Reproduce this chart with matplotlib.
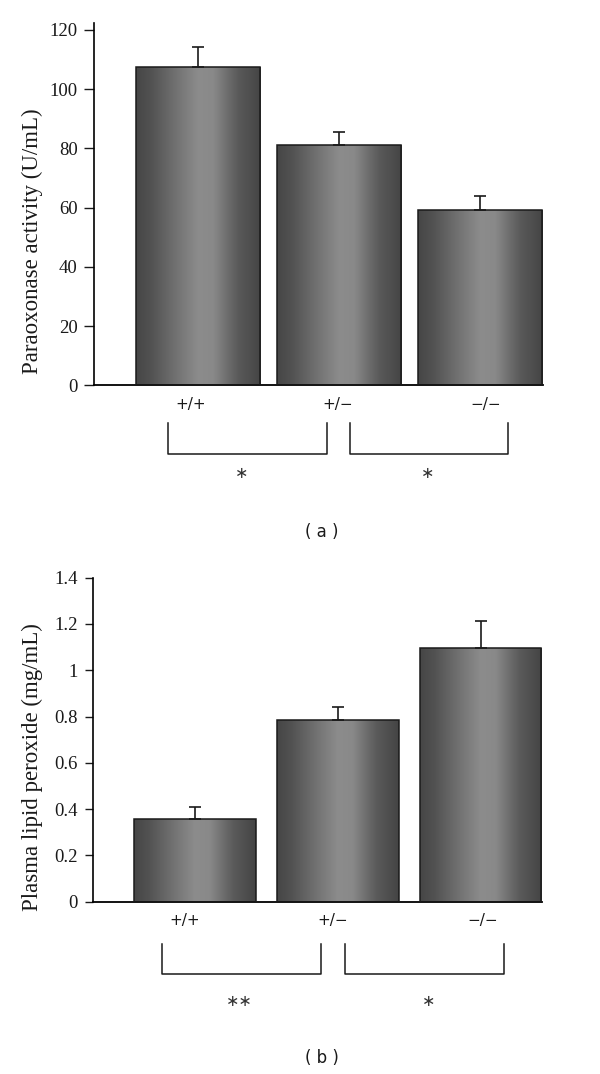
import matplotlib
matplotlib.use("Agg")
import matplotlib.pyplot as plt
import numpy as np
from matplotlib.colors import LinearSegmentedColormap
from matplotlib.lines import Line2D

# ---- data
genotypes = ["+/+", "+/\u2212", "\u2212/\u2212"]
pon_activity = [107.6, 81.0, 59.1]      # U/mL
pon_err = [6.7, 4.5, 4.8]
lipid_peroxide = [0.357, 0.787, 1.098]  # mg/mL
lipid_err = [0.053, 0.055, 0.115]
a_ticks = [0, 20, 40, 60, 80, 100, 120]
b_ticks = [0, 0.2, 0.4, 0.6, 0.8, 1.0, 1.2, 1.4]
b_ticklabels = ["0", "0.2", "0.4", "0.6", "0.8", "1", "1.2", "1.4"]
a_stars = ["\u2217", "\u2217"]
b_stars = ["\u2217\u2217", "\u2217"]

plt.rcParams["font.family"] = ["Liberation Serif", "DejaVu Serif"]
SANS = ["DejaVu Sans"]
INK = "#1a1a1a"

W, H = 600, 1074
fig = plt.figure(figsize=(W / 100, H / 100), dpi=100)


def box(x0, y0, x1, y1):
    # pixel box (top-left origin) -> figure rect
    return [x0 / W, 1 - y1 / H, (x1 - x0) / W, (y1 - y0) / H]


def fx(x):
    return x / W


def fy(y):
    return 1 - y / H


shade = LinearSegmentedColormap.from_list("bar", [
    (0.00, "#464646"), (0.12, "#525252"), (0.35, "#767676"), (0.50, "#8c8c8c"),
    (0.62, "#898989"), (0.74, "#6c6c6c"), (0.82, "#5a5a5a"), (1.00, "#444444")])


def shaded_bars(ax, vals, errs, width):
    x = np.arange(len(vals))
    bars = ax.bar(x, vals, width, facecolor="none", edgecolor=INK, linewidth=1.1, zorder=3)
    g = np.linspace(0, 1, 256).reshape(1, -1)
    for b in bars:
        im = ax.imshow(g, cmap=shade, vmin=0, vmax=1, aspect="auto", interpolation="bilinear",
                       extent=[b.get_x(), b.get_x() + b.get_width(), 0, b.get_height()], zorder=2)
        im.set_clip_path(b)
    ax.errorbar(x, vals, yerr=[np.zeros(len(errs)), errs], fmt="none", ecolor=INK,
                elinewidth=1.2, capsize=4, capthick=1.2, zorder=4)


def style_axis(ax, ticks, labels, xlim, ylim, ticklen):
    ax.set_xlim(xlim)
    ax.set_ylim(ylim)
    ax.spines[["top", "right"]].set_visible(False)
    ax.spines["left"].set_linewidth(1.2)
    ax.spines["bottom"].set_linewidth(1.3)
    ax.spines["left"].set_bounds(0, ylim[1])
    ax.set_xticks([])
    ax.set_yticks(ticks)
    ax.set_yticklabels(labels)
    ax.tick_params(axis="y", direction="out", length=ticklen, width=1.0, pad=5, labelsize=13.5,
                   colors=INK)


def lower_annotations(labels, label_x, label_y, brackets, br_top, br_bot, stars, star_x, star_y,
                      panel, panel_xy):
    for t, x in zip(labels, label_x):
        fig.text(fx(x), fy(label_y), t, ha="center", va="center", family=SANS, fontsize=11,
                 color=INK)
    for x0, x1 in brackets:
        fig.add_artist(Line2D([fx(x0), fx(x0), fx(x1), fx(x1)],
                              [fy(br_top), fy(br_bot), fy(br_bot), fy(br_top)],
                              color=INK, linewidth=1.1, transform=fig.transFigure))
    for s, x in zip(stars, star_x):
        fig.text(fx(x), fy(star_y), s, ha="center", va="center", family=SANS, fontsize=11.5,
                 color="#333333")
    fig.text(fx(panel_xy[0]), fy(panel_xy[1]), panel, ha="center", va="center", family=SANS,
             fontsize=12, color=INK)


# ---- (a) paraoxonase activity
ax1 = fig.add_axes(box(94.3, 23.3, 543, 385.3))
shaded_bars(ax1, pon_activity, pon_err, 0.88)
style_axis(ax1, a_ticks, [str(t) for t in a_ticks], (-0.732, 2.445), (0, 122.2), 7)
fig.text(fx(32), fy(241), "Paraoxonase activity (U/mL)", rotation=90, ha="center", va="center",
         fontsize=16.5, color=INK)
lower_annotations(genotypes, [191, 338, 486], 405, [(168, 327), (350, 508)], 423, 454,
                  a_stars, [242, 428], 473, "( a )", (322, 532))

# ---- (b) plasma lipid peroxide
ax2 = fig.add_axes(box(92.7, 577.7, 542, 901.7))
shaded_bars(ax2, lipid_peroxide, lipid_err, 0.853)
style_axis(ax2, b_ticks, b_ticklabels, (-0.712, 2.43), (0, 1.4), 6)
fig.text(fx(32), fy(767), "Plasma lipid peroxide (mg/mL)", rotation=90, ha="center",
         va="center", fontsize=16.5, color=INK)
lower_annotations(genotypes, [185, 333, 483], 920, [(162, 321), (345, 504)], 944, 974,
                  b_stars, [239, 429], 1002, "( b )", (322, 1058))

fig.savefig("out.png", dpi=100, facecolor="white")
